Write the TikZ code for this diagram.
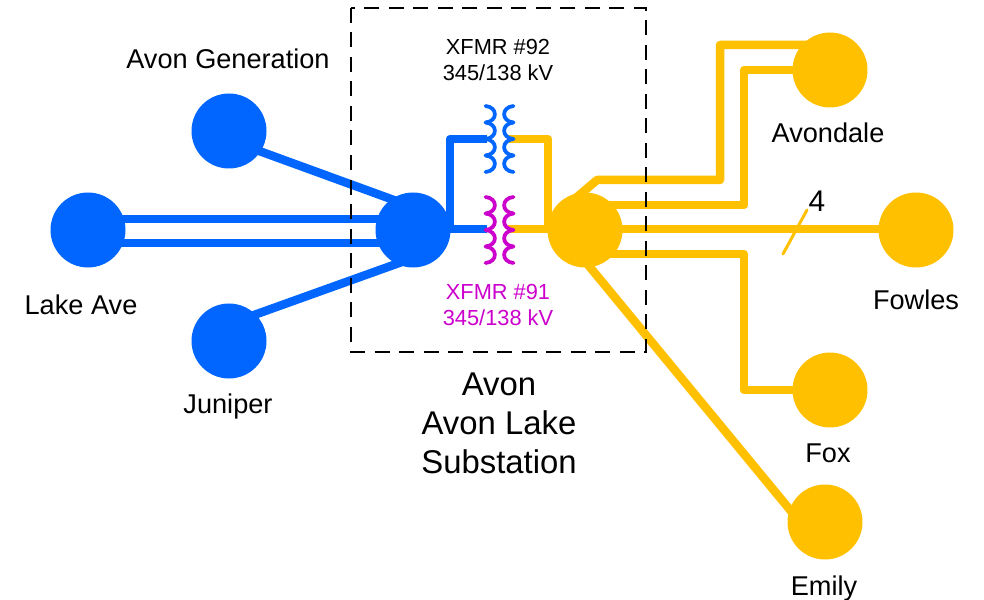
\documentclass[tikz,border=0pt]{standalone}
\usepackage{fontspec}
\setmainfont{Liberation Sans}
\definecolor{busblue}{HTML}{0066FF}
\definecolor{busgold}{HTML}{FFC000}
\definecolor{xfmrpink}{HTML}{CC00CC}
\tikzset{
  bus/.style={circle,minimum size=15mm,inner sep=0pt},
  bluebus/.style={bus,fill=busblue},
  goldbus/.style={bus,fill=busgold},
  blueline/.style={draw=busblue,line width=1.7mm,line join=round},
  goldline/.style={draw=busgold,line width=1.7mm,line join=round},
  coil/.style={line width=.75mm,line cap=round},
  lbl/.style={inner sep=0pt,align=center,font=\fontsize{15.45}{18}\selectfont},
  xlbl/.style={inner sep=0pt,align=center,font=\fontsize{12.4}{14.8}\selectfont},
}
\newcommand{\coilpair}[3]{% x centre, top y, colour
  \foreach \k in {0,1,2,3} {
    \draw[coil,#3] (#1-13.5,#2+16.5*\k) .. controls (#1-1,#2+16.5*\k+1) and (#1-1,#2+16.5*\k+15.5) .. (#1-13.5,#2+16.5*\k+16.5);
    \draw[coil,#3] (#1+14.5,#2+16.5*\k) .. controls (#1+2,#2+16.5*\k+1) and (#1+2,#2+16.5*\k+15.5) .. (#1+14.5,#2+16.5*\k+16.5);
  }
}
\begin{document}
\begin{tikzpicture}[x=.2mm,y=-.2mm]
\useasboundingbox (0,0) rectangle (984,600);
% bends and line ends
\coordinate (AGa) at (229,140);
\coordinate (AVg) at (413,207);
\coordinate (JUa) at (229,324);
\coordinate (AVj) at (413,258);
\coordinate (LAa) at (88,219);
\coordinate (LAb) at (88,243);
\coordinate (AVa) at (413,219);
\coordinate (AVb) at (413,243);
\coordinate (AVc) at (413,229);
\coordinate (T92l) at (487,139);
\coordinate (T92r) at (508,139);
\coordinate (T91l) at (487,229);
\coordinate (T91r) at (508,229);
\coordinate (ADa) at (830,45);
\coordinate (ADb) at (830,70);
\coordinate (GDa) at (570,203);
\coordinate (GDb) at (585,205);
\coordinate (GDc) at (585,254);
\coordinate (GDd) at (585,229);
\coordinate (GDe) at (575,249);
\coordinate (EMa) at (800,522);
\coordinate (FWa) at (916,229);
\coordinate (FXa) at (830,390);
\coordinate (S1) at (783,254);
\coordinate (S2) at (807,210);
% blue lines
\draw[blueline] (AGa) -- (AVg);
\draw[blueline] (JUa) -- (AVj);
\draw[blueline] (LAa) -- (AVa);
\draw[blueline] (LAb) -- (AVb);
\draw[blueline] (AVc) -- (T91l);
\draw[blueline] (450,229) -- (450,139) -- (T92l);
% gold lines
\draw[goldline] (T92r) -- (548,139) -- (548,229);
\draw[goldline] (T91r) -- (GDd);
\draw[goldline] (GDa) -- (597,180) -- (720,180) -- (720,45) -- (ADa);
\draw[goldline] (GDb) -- (744,205) -- (744,70) -- (ADb);
\draw[goldline] (GDd) -- (FWa);
\draw[goldline] (GDc) -- (744,254) -- (744,390) -- (FXa);
\draw[goldline] (GDe) -- (EMa);
\draw[busgold,line width=.6mm,line cap=round] (S1) -- (S2);
% dashed substation box
\draw[black,line width=.4mm,dash pattern=on 3mm off 1.9mm] (351,8) rectangle (646,352);
% buses
\node[bluebus] (AG) at (229,131) {};
\node[bluebus] (LA) at (88,230) {};
\node[bluebus] (JU) at (229,341) {};
\node[bluebus] (AV) at (413,230) {};
\node[goldbus] (GD) at (585,230) {};
\node[goldbus] (AD) at (830,70) {};
\node[goldbus] (FW) at (916,230) {};
\node[goldbus] (FX) at (830,390) {};
\node[goldbus] (EM) at (825,522) {};
% transformers
\coilpair{499}{106}{busblue}
\coilpair{499}{197}{xfmrpink}
% labels
\node[lbl] (tAG) at (228,59) {Avon Generation};
\node[lbl] (tLA) at (81,305) {Lake Ave};
\node[lbl] (tJU) at (228,406) {Juniper};
\node[lbl] (tAD) at (828,133) {Avondale};
\node[lbl] (tFW) at (916,300) {Fowles};
\node[lbl] (tFX) at (828,453) {Fox};
\node[lbl] (tEM) at (824,588) {Emily};
\node[xlbl] (t92) at (498,60) {XFMR \#92\\345/138 kV};
\node[xlbl,text=xfmrpink] (t91) at (498,305) {XFMR \#91\\345/138 kV};
\node[inner sep=0pt,align=center,font=\fontsize{18.7}{22.2}\selectfont] (tAV) at (499,423) {Avon\\Avon Lake\\Substation};
\node[inner sep=0pt,font=\fontsize{17}{20}\selectfont] (t4) at (817,201) {4};
\end{tikzpicture}
\end{document}
